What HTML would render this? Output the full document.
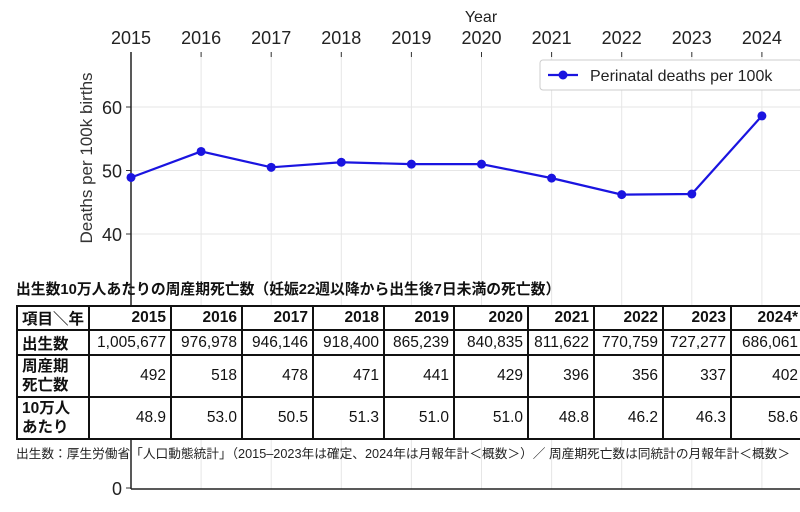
<!DOCTYPE html>
<html><head><meta charset="utf-8"><style>
body{margin:0;width:800px;height:512px;overflow:hidden;background:#fff;font-family:"Liberation Sans","Noto Sans CJK JP",sans-serif;position:relative}
#title{position:absolute;left:16px;top:278px;font-size:14.8px;font-weight:bold;color:#111;white-space:nowrap}
table{position:absolute;left:16px;top:305px;border-collapse:collapse;background:#fff;font-size:15.5px;color:#111;table-layout:fixed;width:786px}
td{border:2px solid #111;padding:0 4px;text-align:right;white-space:nowrap;overflow:hidden}
td.h{text-align:left;font-weight:bold}
tr.hd td{font-weight:bold}
#note{position:absolute;left:16px;top:443px;font-size:12.7px;color:#222;white-space:nowrap}
</style></head><body>
<svg id="chart" width="800" height="512" style="position:absolute;left:0;top:0" font-family="Liberation Sans, DejaVu Sans, sans-serif"></svg>
<div id="title">出生数10万人あたりの周産期死亡数（妊娠22週以降から出生後7日未満の死亡数）</div>
<table>
<colgroup><col style="width:72px"><col style="width:82px"><col style="width:71px"><col style="width:71px"><col style="width:71px"><col style="width:70px"><col style="width:74px"><col style="width:66px"><col style="width:69px"><col style="width:68px"><col style="width:72px"></colgroup>
<tr class="hd" style="height:23px"><td class="h">項目＼年</td><td>2015</td><td>2016</td><td>2017</td><td>2018</td><td>2019</td><td>2020</td><td>2021</td><td>2022</td><td>2023</td><td>2024*</td></tr>
<tr style="height:25px"><td class="h">出生数</td><td>1,005,677</td><td>976,978</td><td>946,146</td><td>918,400</td><td>865,239</td><td>840,835</td><td>811,622</td><td>770,759</td><td>727,277</td><td>686,061</td></tr>
<tr style="height:42px"><td class="h" style="line-height:19px">周産期<br>死亡数</td><td>492</td><td>518</td><td>478</td><td>471</td><td>441</td><td>429</td><td>396</td><td>356</td><td>337</td><td>402</td></tr>
<tr style="height:42px"><td class="h" style="line-height:19px">10万人<br>あたり</td><td>48.9</td><td>53.0</td><td>50.5</td><td>51.3</td><td>51.0</td><td>51.0</td><td>48.8</td><td>46.2</td><td>46.3</td><td>58.6</td></tr>
</table>
<div id="note">出生数：厚生労働省「人口動態統計」（2015–2023年は確定、2024年は月報年計＜概数＞）／ 周産期死亡数は同統計の月報年計＜概数＞</div>
<script>
const years=[2015,2016,2017,2018,2019,2020,2021,2022,2023,2024];
const rates=[48.9,53.0,50.5,51.3,51.0,51.0,48.8,46.2,46.3,58.6];
const yTicks=[0,40,50,60];
const NS="http://www.w3.org/2000/svg";
const svg=document.getElementById('chart');
const x=i=>131+i*70.1;
const y=v=>488-v*6.35;
function mk(t,a,txt){const e=document.createElementNS(NS,t);for(const k in a)e.setAttribute(k,a[k]);if(txt!==undefined)e.textContent=txt;svg.appendChild(e);return e;}
years.forEach((yr,i)=>{
 const g=mk('line',{x1:x(i),x2:x(i),y1:52,y2:489,stroke:'#e6e6e6','stroke-width':1});
 
 const tk=mk('line',{x1:x(i),x2:x(i),y1:52,y2:57,stroke:'#333','stroke-width':1});
 
 const t=mk('text',{x:x(i),y:44,'text-anchor':'middle','font-size':18,fill:'#222'},yr);
 
});
yTicks.forEach(v=>{
 if(v>0){const g=mk('line',{x1:131,x2:800,y1:y(v),y2:y(v),stroke:'#e6e6e6','stroke-width':1});
 }
 const tk=mk('line',{x1:126,x2:131,y1:y(v),y2:y(v),stroke:'#333'});
 
 const t=mk('text',{x:122,y:y(v)+7,'text-anchor':'end','font-size':18,fill:'#222'},v);
 
});
let a=mk('line',{x1:131,x2:131,y1:52,y2:489,stroke:'#222','stroke-width':1.5});

a=mk('line',{x1:131,x2:800,y1:489,y2:489,stroke:'#222','stroke-width':1.5});

let t=mk('text',{x:481,y:22,'text-anchor':'middle','font-size':16,fill:'#222'},'Year');

t=mk('text',{x:0,y:0,'text-anchor':'middle','font-size':17,fill:'#333',transform:'translate(92,158) rotate(-90)'},'Deaths per 100k births');

const line=mk('polyline',{points:rates.map((v,i)=>x(i)+','+y(v)).join(' '),fill:'none',stroke:'#1a14e0','stroke-width':2.2});

rates.forEach((v,i)=>{const c=mk('circle',{cx:x(i),cy:y(v),r:4.5,fill:'#1a14e0'});
 });
const lg=mk('rect',{x:540,y:60,width:262,height:30,rx:3,fill:'#fff',stroke:'#ccc'});

mk('line',{x1:548,x2:578,y1:75,y2:75,stroke:'#1a14e0','stroke-width':2.2});
mk('circle',{cx:563,cy:75,r:4.5,fill:'#1a14e0'});
t=mk('text',{x:590,y:81,'font-size':16,fill:'#222'},'Perinatal deaths per 100k');

</script>
</body></html>
